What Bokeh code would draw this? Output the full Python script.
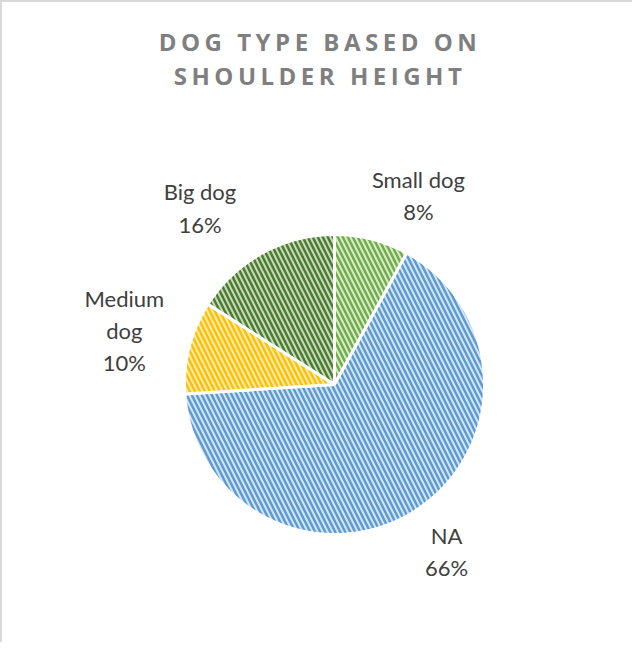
import numpy as np
from bokeh.plotting import figure
from bokeh.models import Range1d, Div, ColumnDataSource
from bokeh.layouts import column
from bokeh.core.properties import value
from bokeh.embed import file_html
from bokeh.resources import INLINE

# ---- data ----
categories = ["Small dog", "NA", "Medium dog", "Big dog"]
label_names = ["Small dog", "NA", "Medium\ndog", "Big dog"]
percent = [8, 66, 10, 16]
title_lines = ["DOG TYPE BASED ON", "SHOULDER HEIGHT"]

# ---- style ----
fills = ["#d8e9cd", "#d4e3f5", "#ffebb3", "#c6dab8"]
hatches = ["#70ad47", "#5b9bd5", "#ffc000", "#4b7a31"]

W, H_TITLE, H_PLOT = 622, 100, 530
cx, cy, R = 332, -272, 150

frac = np.array(percent, dtype=float) / sum(percent)
cum = np.concatenate([[0.0], np.cumsum(frac)])
start = np.pi / 2 - 2 * np.pi * cum[:-1]
end = np.pi / 2 - 2 * np.pi * cum[1:]

# label placement (layout tweaks, degrees clockwise from top)
label_shift_deg = np.array([9.5, -1.5, 0.0, -8.5])
label_dist = np.array([207, 201, 217, 222])
theta = 2 * np.pi * (cum[:-1] + frac / 2) + np.deg2rad(label_shift_deg)
lx = cx + label_dist * np.sin(theta)
ly = cy + label_dist * np.cos(theta)
texts = [f"{n}\n{v}%" for n, v in zip(label_names, percent)]

src = ColumnDataSource(dict(cat=categories, start=start, end=end,
                            fill=fills, hatch=hatches,
                            lx=lx, ly=ly, txt=texts))

p = figure(width=W, height=H_PLOT, x_range=Range1d(0, W), y_range=Range1d(-H_PLOT, 0),
           output_backend="svg", toolbar_location=None, min_border=0,
           x_axis_location=None, y_axis_location=None)
p.grid.visible = False
p.outline_line_color = None
p.background_fill_color = "white"

p.wedge(x=cx, y=cy, radius=R, start_angle="start", end_angle="end", direction="clock",
        source=src, fill_color="fill", hatch_color="hatch", hatch_pattern="\\",
        hatch_scale=10, hatch_weight=2.4, line_color="white", line_width=3)

p.text(x="lx", y="ly", text="txt", source=src, text_align="center", text_baseline="middle",
       text_font=value("Lato"), text_font_size="22px", text_color="#404040",
       text_line_height=1.2)

div = Div(text="<br>".join(title_lines), width=W, height=H_TITLE,
          styles={"font-family": "'Open Sans'", "font-weight": "700", "font-size": "24px",
                  "letter-spacing": "4.5px", "color": "#7f7f7f", "text-align": "center",
                  "line-height": "34px", "padding-top": "18px", "padding-left": "4px",
                  "box-sizing": "border-box", "background": "white"})

layout = column(div, p, spacing=0,
                styles={"border-left": "2px solid #d9d9d9", "border-top": "2px solid #d9d9d9"})
open("out.html", "w").write(file_html(layout, INLINE))
